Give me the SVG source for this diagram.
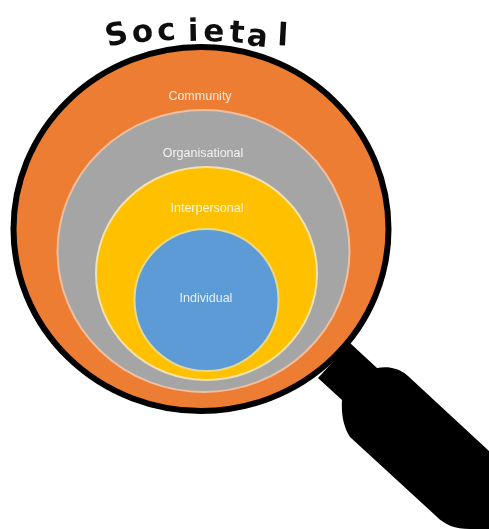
<svg xmlns="http://www.w3.org/2000/svg" width="489" height="529" viewBox="0 0 489 529">
<style>
.lbl{font-family:"Liberation Sans",Arial,sans-serif;font-size:12.500px;fill:#fff;fill-opacity:.85;text-anchor:middle}
.ring{stroke-width:2}
</style>
<defs>
<filter id="b" x="-5%" y="-5%" width="110%" height="110%"><feGaussianBlur stdDeviation="0.6"/></filter>
<filter id="t" x="-10%" y="-50%" width="120%" height="200%"><feGaussianBlur stdDeviation="0.7"/></filter>
</defs>
<g id="handle" filter="url(#b)">
<path fill="#000" d="M350 343 L377 368 C388 366 399 368 408 376 L489 451 L489 529 L470 529 C455 529 445 525 436 516 L350 437 C344 428 341 415 342 400 L318 378 Z"/>
</g>
<g id="societal" filter="url(#b)">
<ellipse cx="201" cy="229" rx="187.500" ry="182" fill="#ed7d31" stroke="#000" stroke-width="6"/>
<text font-family="'DejaVu Sans',sans-serif" font-size="31" font-weight="700" fill="#111" x="108 133 158 188 203 229 246 277" y="47 43 41 41 41 42 45 45" rotate="-14 -7 -5 -1 2 4 6 3">Societal</text>
</g>
<g id="community"><text class="lbl" x="200" y="100" filter="url(#t)">Community</text></g>
<g id="organizational" filter="url(#b)">
<ellipse class="ring" cx="203.500" cy="251" rx="146" ry="141" fill="#a5a5a5" stroke="#f0bfa0"/>
</g>
<g id="organizational-label"><text class="lbl" x="203" y="157" filter="url(#t)">Organisational</text></g>
<g id="interpersonal" filter="url(#b)">
<ellipse class="ring" cx="206.500" cy="273.500" rx="110.500" ry="106.500" fill="#ffc000" stroke="#f2e2b0"/>
</g>
<g id="interpersonal-label"><text class="lbl" x="207" y="212" filter="url(#t)">Interpersonal</text></g>
<g id="individual" filter="url(#b)">
<ellipse class="ring" cx="206.500" cy="300" rx="72" ry="71" fill="#5b9bd5" stroke="#e6d98a"/>
</g>
<g id="individual-label"><text class="lbl" x="206" y="302" filter="url(#t)">Individual</text></g>
<g id="connectors"></g>
</svg>
